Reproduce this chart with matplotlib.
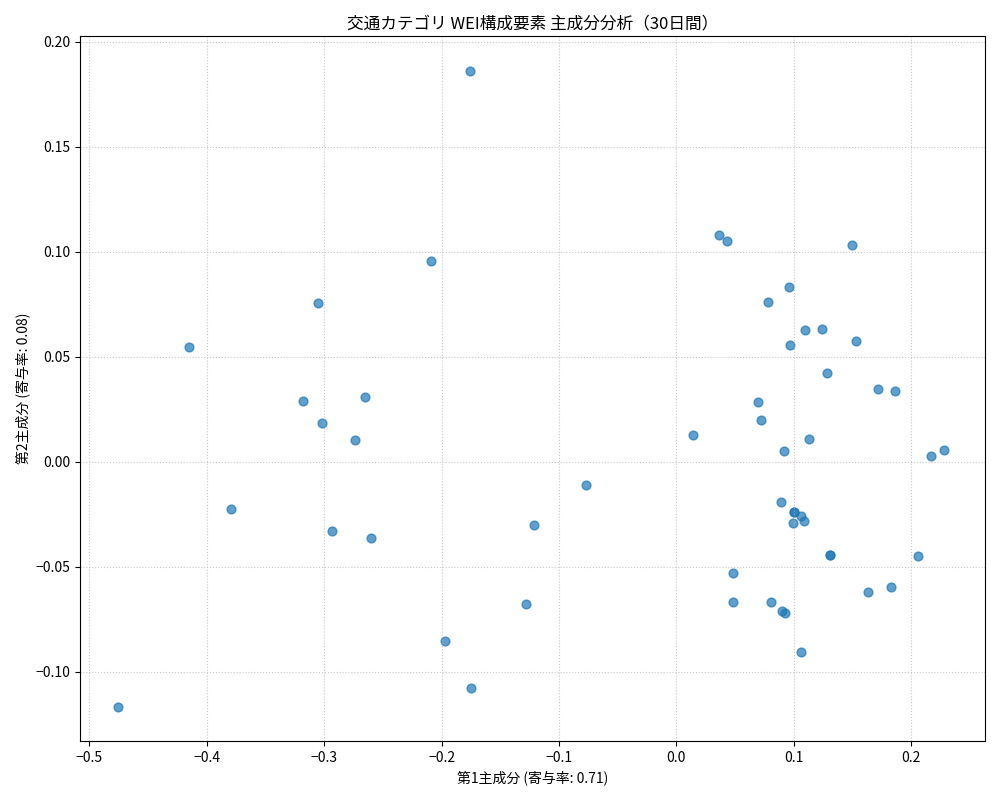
import matplotlib
matplotlib.use("Agg")
import matplotlib.pyplot as plt

plt.rcParams['font.family'] = ['Noto Sans CJK JP', 'DejaVu Sans']
plt.rcParams['axes.unicode_minus'] = True

pc1 = [-0.176,0.036,0.043,0.150,-0.209,0.096,-0.305,0.078,0.110,0.124,-0.415,0.097,0.153,0.128,
       0.172,0.186,-0.318,-0.265,0.070,0.072,-0.302,-0.274,0.014,0.113,0.092,0.217,0.228,-0.077,
       -0.379,0.089,0.100,0.100,0.106,0.109,0.099,-0.121,-0.293,-0.260,0.131,0.131,0.206,0.048,
       0.183,0.163,0.081,0.048,-0.128,0.090,0.093,-0.197,0.106,-0.175,-0.476]
pc2 = [0.186,0.108,0.105,0.103,0.0956,0.083,0.0757,0.076,0.0625,0.063,0.0544,0.0554,0.0573,0.042,
       0.0345,0.0336,0.0289,0.0308,0.0284,0.0199,0.0185,0.0104,0.0128,0.0109,0.0052,0.0024,0.0057,-0.0114,
       -0.0227,-0.0194,-0.0241,-0.0241,-0.026,-0.0284,-0.0293,-0.0303,-0.0331,-0.0364,-0.0445,-0.0445,-0.045,-0.053,
       -0.0596,-0.062,-0.0667,-0.0667,-0.068,-0.071,-0.072,-0.0857,-0.0909,-0.108,-0.117]

fig, ax = plt.subplots(figsize=(10, 8), dpi=100)
ax.scatter(pc1, pc2, color='tab:blue', alpha=0.7, s=40)
ax.set_title('交通カテゴリ WEI構成要素 主成分分析（30日間）')
ax.set_xlabel('第1主成分 (寄与率: 0.71)')
ax.set_ylabel('第2主成分 (寄与率: 0.08)')
ax.grid(True, linestyle=':', alpha=0.7)
ax.set_xlim(-0.508, 0.263)
ax.set_ylim(-0.133, 0.2025)
plt.tight_layout()
fig.savefig('out.png')
